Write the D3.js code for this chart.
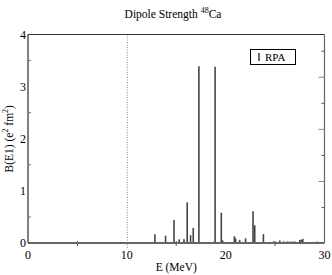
<!DOCTYPE html>
<html>
<head>
<meta charset="utf-8">
<script src="https://cdn.jsdelivr.net/npm/d3@7"></script>
<style>
  body { margin: 0; background: #fff; }
  svg { display: block; }
</style>
</head>
<body>
<div id="viz"></div>
<script>
// RPA dipole strength for 48Ca
const energies = [12.84, 13.92, 14.26, 14.77, 15.30, 15.78, 16.11, 16.45, 16.72, 17.29,
                  18.93, 19.56, 19.69, 20.88, 21.00, 21.42, 22.02, 22.77, 22.94, 23.82,
                  24.86, 25.47, 25.87, 26.22, 26.48, 26.76, 26.99, 27.50, 27.64, 27.80, 29.26];
const strengths = [0.17, 0.14, 0.02, 0.44, 0.07, 0.07, 0.78, 0.15, 0.29, 3.39,
                   3.38, 0.58, 0.05, 0.13, 0.09, 0.06, 0.09, 0.61, 0.34, 0.17,
                   0.03, 0.05, 0.03, 0.03, 0.03, 0.03, 0.03, 0.06, 0.06, 0.08, 0.03];

const xTicks = [0, 10, 20, 30];
const xMinorTicks = [5, 15, 25];
const yTicks = [0, 1, 2, 3, 4];
const yMinorTicks = [0.5, 1.5, 2.5, 3.5];
// right axis ticks in the original sit a bit off the left ones
const rightMajor = [3.18, 2.18, 1.18];
const rightMinor = [3.68, 2.68, 1.68, 0.68];
const markerE = 10;

const W = 332, H = 275;
const pLeft = 28, pRight = 324.5, pTop = 34.5, pBottom = 243;
const serif = "'Liberation Serif', 'Times New Roman', 'DejaVu Serif', serif";

const svg = d3.select("#viz").append("svg")
    .attr("width", W)
    .attr("height", H)
    .attr("font-family", serif);

const x = d3.scaleLinear().domain([0, 30]).range([pLeft, pRight]);
const y = d3.scaleLinear().domain([0, 4]).range([pBottom, pTop]);

// dotted line at 10 MeV
svg.append("line")
    .attr("x1", x(markerE) + 0.5).attr("x2", x(markerE) + 0.5)
    .attr("y1", pTop).attr("y2", pBottom + 5)
    .attr("stroke", "#888")
    .attr("stroke-width", 1)
    .attr("stroke-dasharray", "1,1.5");

// frame
svg.append("line")
    .attr("x1", pLeft).attr("x2", pRight).attr("y1", pTop).attr("y2", pTop)
    .attr("stroke", "#333").attr("stroke-width", 1);
svg.append("line")
    .attr("x1", pRight).attr("x2", pRight).attr("y1", pTop).attr("y2", pBottom)
    .attr("stroke", "#666").attr("stroke-width", 1.2);
svg.append("line")
    .attr("x1", pLeft).attr("x2", pLeft).attr("y1", pTop).attr("y2", pBottom)
    .attr("stroke", "#000").attr("stroke-width", 1);

// left axis minor ticks (inward)
svg.selectAll(".ltick")
    .data(yMinorTicks)
    .join("line")
    .attr("x1", pLeft).attr("x2", pLeft + 3)
    .attr("y1", d => y(d)).attr("y2", d => y(d))
    .attr("stroke", "#777").attr("stroke-width", 1);

// right axis ticks (inward)
svg.selectAll(".rmaj")
    .data(rightMajor)
    .join("line")
    .attr("x1", pRight - 6).attr("x2", pRight)
    .attr("y1", d => y(d)).attr("y2", d => y(d))
    .attr("stroke", "#888").attr("stroke-width", 1);
svg.selectAll(".rmin")
    .data(rightMinor)
    .join("line")
    .attr("x1", pRight - 3).attr("x2", pRight)
    .attr("y1", d => y(d)).attr("y2", d => y(d))
    .attr("stroke", "#555").attr("stroke-width", 1);

// bottom minor ticks
svg.selectAll(".bmin")
    .data(xMinorTicks)
    .join("line")
    .attr("x1", d => x(d)).attr("x2", d => x(d))
    .attr("y1", pBottom - 2).attr("y2", pBottom + 3)
    .attr("stroke", "#555").attr("stroke-width", 1);

// bars
svg.selectAll(".bar")
    .data(energies)
    .join("line")
    .attr("class", "bar")
    .attr("x1", d => x(d)).attr("x2", d => x(d))
    .attr("y1", y(0))
    .attr("y2", (d, i) => y(strengths[i]))
    .attr("stroke", "#444")
    .attr("stroke-width", 1.6);

// baseline
svg.append("line")
    .attr("x1", pLeft).attr("x2", pRight).attr("y1", pBottom).attr("y2", pBottom)
    .attr("stroke", "#666").attr("stroke-width", 2);

// tick labels
svg.selectAll(".xlab")
    .data(xTicks)
    .join("text")
    .attr("x", d => x(d))
    .attr("y", pBottom + 16)
    .attr("text-anchor", "middle")
    .attr("font-size", 12)
    .text(d => d);

svg.selectAll(".ylab")
    .data(yTicks)
    .join("text")
    .attr("x", pLeft - 2)
    .attr("y", d => y(d) + 4)
    .attr("text-anchor", "end")
    .attr("font-size", 12)
    .text(d => d);

// title
const title = svg.append("text")
    .attr("x", 173)
    .attr("y", 18)
    .attr("text-anchor", "middle")
    .attr("font-size", 11.5);
title.append("tspan").text("Dipole Strength ");
title.append("tspan").attr("font-size", 8).attr("dy", -5).text("48");
title.append("tspan").attr("dy", 5).text("Ca");

// axis titles
svg.append("text")
    .attr("x", (pLeft + pRight) / 2)
    .attr("y", 271)
    .attr("text-anchor", "middle")
    .attr("font-size", 11.5)
    .text("E (MeV)");

const ylab = svg.append("text")
    .attr("transform", `translate(13, ${(pTop + pBottom) / 2}) rotate(-90)`)
    .attr("text-anchor", "middle")
    .attr("font-size", 11.5);
ylab.append("tspan").text("B(E1) (e");
ylab.append("tspan").attr("font-size", 8).attr("dy", -5).text("2");
ylab.append("tspan").attr("dy", 5).text(" fm");
ylab.append("tspan").attr("font-size", 8).attr("dy", -5).text("2");
ylab.append("tspan").attr("dy", 5).text(")");

// legend
const lg = svg.append("g");
lg.append("rect")
    .attr("x", 250.5).attr("y", 49.5)
    .attr("width", 45).attr("height", 15)
    .attr("fill", "#fff")
    .attr("stroke", "#000")
    .attr("stroke-width", 1);
lg.append("line")
    .attr("x1", 259).attr("x2", 259)
    .attr("y1", 53).attr("y2", 61)
    .attr("stroke", "#444").attr("stroke-width", 1.6);
lg.append("text")
    .attr("x", 265)
    .attr("y", 61)
    .attr("font-size", 11)
    .text("RPA");
</script>
</body>
</html>
